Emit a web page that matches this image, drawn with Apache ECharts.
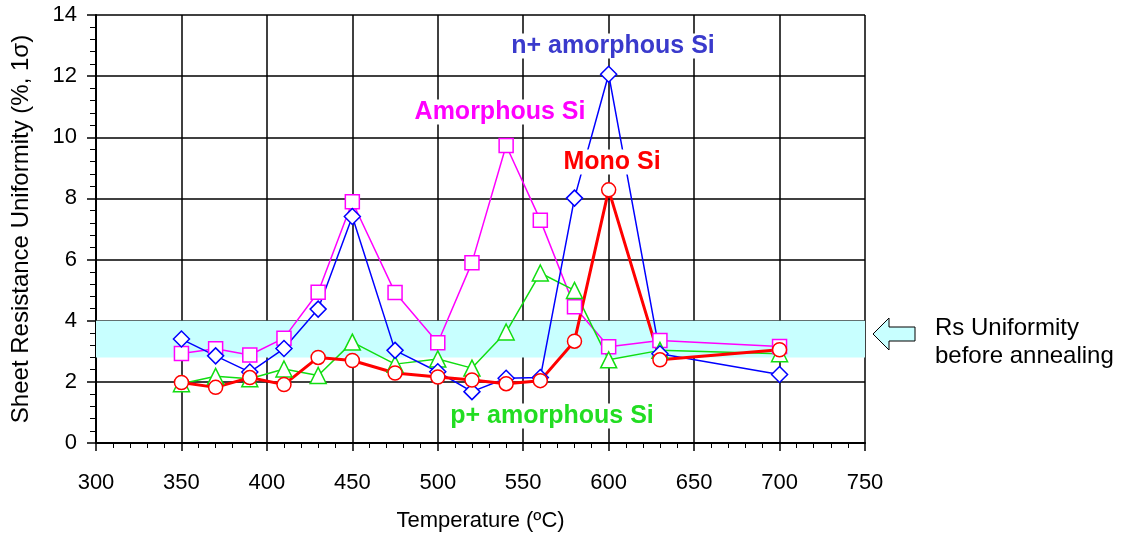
<!DOCTYPE html>
<html>
<head>
<meta charset="utf-8">
<script src="https://cdn.jsdelivr.net/npm/echarts@6/dist/echarts.min.js"></script>
<style>
  html, body { margin: 0; padding: 0; background: #fff; }
  #chart { width: 1135px; height: 541px; }
</style>
</head>
<body>
<div id="chart"></div>
<script>
// temperatures (ºC)
const temps = [350, 370, 390, 410, 430, 450, 475, 500, 520, 540, 560, 580, 600, 630, 700]
// sheet resistance uniformity (%, 1σ)
const nPlusAmorphous = [3.40, 2.85, 2.32, 3.09, 4.38, 7.41, 3.03, 2.33, 1.68, 2.12, 2.14, 8.01, 12.06, 2.92, 2.24]
const amorphous = [2.93, 3.08, 2.88, 3.43, 4.93, 7.89, 4.92, 3.28, 5.90, 9.73, 7.29, 4.46, 3.15, 3.35, 3.16]
const pPlusAmorphous = [1.94, 2.18, 2.10, 2.42, 2.21, 3.30, 2.58, 2.75, 2.45, 3.63, 5.56, 4.99, 2.72, 3.03, 2.92]
const monoSi = [1.98, 1.82, 2.14, 1.91, 2.80, 2.70, 2.29, 2.16, 2.06, 1.94, 2.04, 3.33, 8.28, 2.72, 3.05]
// Rs uniformity range before annealing
const beforeBand = [2.8, 4.0]

const font = '"Liberation Sans", Arial, Helvetica, sans-serif'

function pairs(ys) {
  return temps.map((t, i) => [t, ys[i]])
}

function mkSeries(name, ys, color, symbol, size, width) {
  return {
    name: name,
    type: 'line',
    data: pairs(ys),
    symbol: symbol,
    symbolSize: size,
    showAllSymbol: true,
    lineStyle: { color: color, width: width },
    itemStyle: { color: '#fff', borderColor: color, borderWidth: 1.5 },
    emphasis: { disabled: true },
    animation: false,
  }
}

function label(text, x, y, color) {
  return {
    type: 'text', x: x, y: y, z: 100,
    style: {
      text: text, align: 'center', verticalAlign: 'middle',
      font: 'bold 25px ' + font, fill: color, backgroundColor: '#fff', padding: [0, 3],
    },
  }
}

const myChart = echarts.init(document.getElementById('chart'))

const option = {
  animation: false,
  grid: { left: 96, right: 270, top: 15, bottom: 98, outerBoundsMode: 'none' },
  xAxis: {
    type: 'value',
    min: 300,
    max: 750,
    interval: 50,
    name: 'Temperature (ºC)',
    nameLocation: 'middle',
    nameGap: 67,
    nameTextStyle: { fontFamily: font, fontSize: 22, color: '#000' },
    axisLine: { show: true, onZero: false, lineStyle: { color: '#000', width: 2 } },
    axisTick: { show: true, length: 8, lineStyle: { color: '#000', width: 1.5 } },
    minorTick: { show: true, splitNumber: 5, length: 5, lineStyle: { color: '#000', width: 1 } },
    axisLabel: { fontFamily: font, fontSize: 22, color: '#000', margin: 29 },
    splitLine: { show: true, lineStyle: { color: '#000', width: 1.5 } },
  },
  yAxis: {
    type: 'value',
    min: 0,
    max: 14,
    interval: 2,
    name: 'Sheet Resistance Uniformity (%, 1σ)',
    nameLocation: 'middle',
    nameGap: 63,
    nameTextStyle: { fontFamily: font, fontSize: 24, color: '#000' },
    axisLine: { show: true, lineStyle: { color: '#000', width: 2 } },
    axisTick: { show: true, length: 9, lineStyle: { color: '#000', width: 1.5 } },
    minorTick: { show: true, splitNumber: 5, length: 6, lineStyle: { color: '#000', width: 1 } },
    axisLabel: { fontFamily: font, fontSize: 22, color: '#000', margin: 19 },
    splitLine: { show: true, lineStyle: { color: '#000', width: 1.5 } },
  },
  series: [
    {
      name: 'band',
      type: 'line',
      data: [],
      markArea: {
        silent: true,
        itemStyle: { color: '#c8ffff' },
        data: [[{ yAxis: beforeBand[0] }, { yAxis: beforeBand[1] }]],
      },
    },
    mkSeries('Amorphous Si', amorphous, '#ff00ff', 'rect', 14, 1.5),
    mkSeries('p+ amorphous Si', pPlusAmorphous, '#11dd11', 'triangle', 16, 1.5),
    mkSeries('n+ amorphous Si', nPlusAmorphous, '#0000ff', 'diamond', 16, 1.5),
    mkSeries('Mono Si', monoSi, '#ff0000', 'circle', 14, 3),
  ],
  graphic: [
    label('n+ amorphous Si', 613, 46, '#3a3acc'),
    label('Amorphous Si', 500, 112, '#ff00ff'),
    label('Mono Si', 612, 162, '#ff0000'),
    label('p+ amorphous Si', 552, 416, '#22dd22'),
    // arrow pointing at the band
    {
      type: 'polygon', z: 100,
      shape: { points: [[873, 334], [889, 318], [889, 327], [915, 327], [915, 341], [889, 341], [889, 350]] },
      style: { fill: '#c8ffff', stroke: '#000', lineWidth: 1 },
    },
    {
      type: 'text', x: 935, y: 328, z: 100,
      style: { text: 'Rs Uniformity', verticalAlign: 'middle', font: '24px ' + font, fill: '#000' },
    },
    {
      type: 'text', x: 935, y: 356, z: 100,
      style: { text: 'before annealing', verticalAlign: 'middle', font: '24px ' + font, fill: '#000' },
    },
  ],
}

myChart.setOption(option)
</script>
</body>
</html>
